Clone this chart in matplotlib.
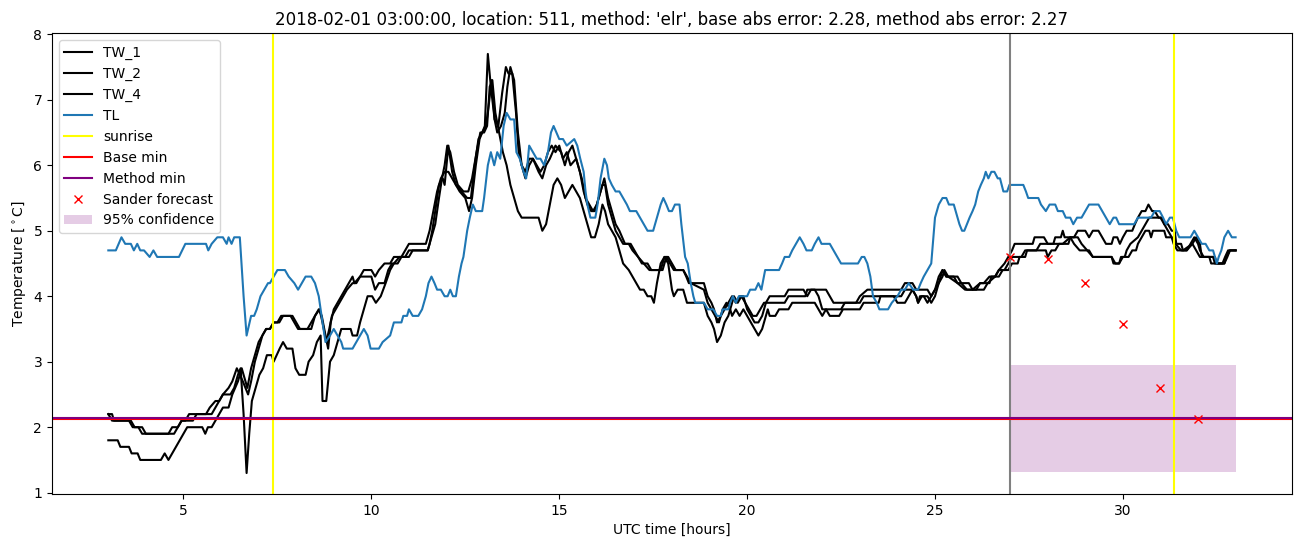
import matplotlib
matplotlib.use("Agg")
import matplotlib.pyplot as plt

# (hour, temperature) breakpoints
tw_1 = [(3.0,2.2),(3.1,2.1),(3.55,2.1),(3.65,2.0),(3.9,2.0),(4.0,1.9),(4.75,1.9),(4.85,2.0),(4.95,2.1),(5.25,2.1),(5.35,2.2),(5.75,2.2),(5.85,2.3),(5.95,2.4),(6.05,2.5),(6.25,2.5),(6.35,2.6),(6.45,2.8),(6.52,2.9),(6.6,2.2),(6.68,1.3),(6.75,1.9),(6.82,2.4),(6.92,2.6),(7.02,2.8),(7.12,2.9),(7.22,3.1),(7.35,3.1),(7.4,3.0),(7.48,3.1),(7.56,3.2),(7.65,3.3),(7.75,3.2),(7.9,3.2),(7.98,2.9),(8.08,2.8),(8.25,2.8),(8.33,3.0),(8.45,3.1),(8.55,3.3),(8.65,3.4),(8.7,2.4),(8.8,2.4),(8.9,3.0),(9.0,3.1),(9.1,3.3),(9.2,3.5),(9.45,3.5),(9.5,3.4),(9.62,3.4),(9.7,3.6),(9.8,3.8),(9.9,4.0),(10.02,4.0),(10.12,3.9),(10.25,4.0),(10.38,4.2),(10.5,4.4),(10.6,4.5),(10.75,4.6),(10.9,4.6),(11.0,4.7),(11.5,4.7),(11.55,4.8),(11.62,5.0),(11.7,5.3),(11.8,5.7),(11.9,5.8),(11.95,5.7),(12.05,6.3),(12.15,5.9),(12.25,5.7),(12.35,5.6),(12.5,5.5),(12.6,5.3),(12.68,5.5),(12.78,6.0),(12.88,6.4),(12.95,6.5),(13.02,6.6),(13.1,7.7),(13.18,7.2),(13.28,6.7),(13.38,6.6),(13.48,7.1),(13.58,7.5),(13.65,7.4),(13.75,7.4),(13.85,6.8),(13.92,6.2),(14.0,6.0),(14.1,5.9),(14.2,6.1),(14.3,6.1),(14.4,6.0),(14.5,5.9),(14.6,6.0),(14.7,6.2),(14.8,6.3),(14.9,6.2),(15.0,6.3),(15.1,6.1),(15.2,6.2),(15.3,6.0),(15.45,6.1),(15.6,5.8),(15.7,5.5),(15.8,5.4),(15.9,5.3),(16.0,5.4),(16.1,5.6),(16.2,5.8),(16.3,5.5),(16.4,5.3),(16.5,5.1),(16.6,5.0),(16.75,4.8),(16.9,4.8),(17.0,4.7),(17.1,4.6),(17.25,4.5),(17.4,4.4),(17.7,4.4),(17.8,4.6),(17.9,4.6),(18.0,4.5),(18.1,4.4),(18.3,4.4),(18.38,4.3),(18.45,4.2),(18.85,4.2),(18.95,4.0),(19.05,3.9),(19.12,3.8),(19.2,3.6),(19.3,3.7),(19.4,3.8),(19.5,3.9),(19.6,4.0),(19.7,3.9),(19.8,4.0),(19.9,4.0),(20.0,3.8),(20.1,3.7),(20.2,3.6),(20.3,3.6),(20.4,3.7),(20.5,3.9),(20.6,4.0),(21.0,4.0),(21.1,4.1),(21.5,4.1),(21.6,4.0),(21.7,4.1),(22.1,4.1),(22.2,4.0),(22.3,3.9),(22.9,3.9),(23.0,4.0),(23.2,4.1),(24.1,4.1),(24.2,4.2),(24.4,4.2),(24.5,4.1),(24.8,4.1),(24.9,4.0),(25.0,4.1),(25.1,4.3),(25.2,4.4),(25.3,4.3),(25.6,4.3),(25.7,4.2),(25.9,4.2),(26.0,4.1),(26.3,4.1),(26.4,4.2),(26.6,4.3),(26.7,4.4),(26.85,4.5),(26.95,4.6),(27.05,4.7),(27.12,4.8),(27.6,4.8),(27.65,4.9),(27.9,4.9),(28.0,4.8),(28.15,4.8),(28.2,4.9),(28.35,4.9),(28.4,5.0),(28.45,4.9),(28.7,4.9),(28.8,5.0),(29.0,5.0),(29.1,4.9),(29.2,5.0),(29.35,5.0),(29.45,4.9),(29.55,4.8),(29.7,4.8),(29.75,4.9),(29.85,4.9),(29.92,4.8),(30.0,4.9),(30.1,5.0),(30.25,5.0),(30.32,5.1),(30.4,5.2),(30.5,5.3),(30.6,5.3),(30.68,5.4),(30.78,5.3),(30.85,5.3),(30.95,5.2),(31.05,5.2),(31.1,5.1),(31.2,5.1),(31.3,5.0),(31.38,5.0),(31.42,4.8),(31.55,4.8),(31.6,4.7),(31.7,4.7),(31.8,4.8),(31.9,4.9),(32.0,4.8),(32.05,4.7),(32.15,4.6),(32.45,4.6),(32.5,4.5),(32.65,4.5),(32.72,4.6),(32.8,4.7),(33.0,4.7)]

tw_2 = [(3.0,1.8),(3.25,1.8),(3.32,1.7),(3.55,1.7),(3.62,1.6),(3.78,1.6),(3.85,1.5),(4.4,1.5),(4.5,1.6),(4.6,1.5),(4.7,1.6),(4.8,1.7),(4.9,1.8),(5.0,1.9),(5.1,2.0),(5.5,2.0),(5.58,1.9),(5.65,2.0),(5.75,2.0),(5.85,2.1),(5.95,2.2),(6.05,2.3),(6.2,2.3),(6.3,2.5),(6.45,2.7),(6.55,2.9),(6.65,2.7),(6.7,2.6),(6.8,2.9),(6.9,3.1),(7.0,3.3),(7.1,3.4),(7.2,3.5),(7.3,3.5),(7.4,3.6),(7.5,3.6),(7.6,3.7),(7.85,3.7),(7.95,3.6),(8.05,3.5),(8.3,3.5),(8.4,3.6),(8.5,3.7),(8.6,3.8),(8.68,3.7),(8.78,3.4),(8.85,3.2),(8.92,3.6),(9.0,3.8),(9.1,3.9),(9.2,4.0),(9.3,4.1),(9.4,4.2),(9.5,4.3),(9.55,4.2),(9.7,4.3),(9.8,4.4),(10.0,4.4),(10.1,4.3),(10.2,4.4),(10.35,4.5),(10.5,4.5),(10.6,4.6),(10.8,4.6),(10.9,4.7),(11.0,4.8),(11.45,4.8),(11.55,5.0),(11.65,5.3),(11.75,5.6),(11.85,5.8),(11.95,5.9),(12.05,5.9),(12.15,5.8),(12.25,5.7),(12.4,5.6),(12.55,5.5),(12.65,5.5),(12.75,6.0),(12.85,6.4),(12.95,6.5),(13.05,6.6),(13.12,6.9),(13.2,7.3),(13.28,6.7),(13.35,6.5),(13.45,6.6),(13.55,6.8),(13.62,7.2),(13.7,7.5),(13.8,7.3),(13.9,6.5),(14.0,6.0),(14.1,5.8),(14.2,6.0),(14.3,6.1),(14.45,5.9),(14.55,5.8),(14.65,6.0),(14.75,6.1),(14.9,6.3),(15.05,6.2),(15.15,6.0),(15.25,6.2),(15.35,6.3),(15.45,6.1),(15.55,5.9),(15.65,5.6),(15.75,5.4),(15.85,5.3),(15.95,5.3),(16.05,5.5),(16.15,5.7),(16.22,5.7),(16.3,5.4),(16.4,5.2),(16.5,5.0),(16.6,4.9),(16.7,4.8),(16.85,4.8),(16.95,4.7),(17.1,4.6),(17.2,4.5),(17.35,4.5),(17.45,4.4),(17.75,4.4),(17.85,4.6),(17.95,4.5),(18.05,4.4),(18.3,4.4),(18.4,4.3),(18.5,4.2),(18.85,4.1),(18.95,3.9),(19.05,3.8),(19.15,3.7),(19.25,3.6),(19.35,3.8),(19.45,3.9),(19.55,3.8),(19.65,4.0),(19.75,3.9),(19.85,4.0),(19.95,3.9),(20.05,3.8),(20.15,3.7),(20.25,3.7),(20.35,3.8),(20.45,3.9),(21.0,3.9),(21.1,4.0),(21.55,4.0),(21.6,4.1),(21.8,4.1),(21.9,4.0),(22.0,3.8),(22.5,3.8),(22.6,3.9),(23.0,3.9),(23.1,4.0),(24.1,4.0),(24.2,4.1),(24.4,4.1),(24.5,4.0),(24.55,3.9),(24.6,4.0),(24.7,4.0),(24.8,3.9),(24.9,4.0),(25.0,4.1),(25.1,4.2),(25.2,4.4),(25.3,4.3),(25.5,4.3),(25.6,4.2),(25.8,4.1),(26.0,4.1),(26.2,4.2),(26.3,4.2),(26.45,4.3),(26.6,4.3),(26.7,4.4),(26.85,4.4),(26.95,4.5),(27.05,4.6),(27.3,4.6),(27.4,4.7),(27.7,4.7),(27.8,4.8),(28.4,4.8),(28.6,4.9),(28.7,4.8),(28.85,4.7),(29.1,4.7),(29.2,4.6),(29.7,4.6),(29.75,4.5),(29.9,4.5),(29.95,4.6),(30.05,4.6),(30.1,4.7),(30.2,4.8),(30.4,4.9),(30.5,5.0),(30.6,5.1),(30.7,5.2),(31.0,5.2),(31.1,5.1),(31.2,5.0),(31.3,4.9),(31.4,4.8),(31.55,4.7),(31.7,4.7),(31.85,4.8),(31.95,4.9),(32.05,4.8),(32.1,4.6),(32.4,4.6),(32.45,4.5),(32.7,4.5),(32.78,4.6),(32.85,4.7),(33.0,4.7)]

tw_4 = [(3.0,2.2),(3.1,2.2),(3.15,2.1),(3.6,2.1),(3.7,2.0),(3.8,2.0),(3.9,1.9),(4.6,1.9),(4.7,2.0),(4.85,2.0),(4.95,2.1),(5.05,2.1),(5.15,2.2),(5.6,2.2),(5.7,2.3),(5.85,2.4),(5.95,2.4),(6.05,2.5),(6.2,2.6),(6.3,2.7),(6.42,2.9),(6.5,2.8),(6.58,2.7),(6.65,2.6),(6.72,2.5),(6.8,2.7),(6.9,3.0),(7.0,3.2),(7.1,3.4),(7.2,3.5),(7.3,3.5),(7.4,3.6),(7.55,3.6),(7.65,3.7),(7.9,3.7),(8.0,3.6),(8.1,3.5),(8.4,3.5),(8.5,3.7),(8.62,3.8),(8.7,3.6),(8.8,3.3),(8.88,3.5),(8.95,3.7),(9.05,3.8),(9.15,3.9),(9.25,4.0),(9.35,4.1),(9.5,4.2),(9.6,4.2),(9.7,4.3),(10.0,4.3),(10.1,4.1),(10.2,4.2),(10.35,4.2),(10.45,4.4),(10.55,4.5),(10.7,4.5),(10.8,4.6),(11.0,4.6),(11.1,4.7),(11.5,4.7),(11.6,4.9),(11.7,5.1),(11.8,5.5),(11.88,5.8),(11.95,6.0),(12.02,6.3),(12.1,6.2),(12.2,5.9),(12.3,5.7),(12.45,5.6),(12.58,5.6),(12.68,5.8),(12.8,6.2),(12.9,6.5),(13.0,6.5),(13.08,6.6),(13.15,7.2),(13.22,7.3),(13.3,6.8),(13.4,6.5),(13.5,6.2),(13.6,6.0),(13.7,5.7),(13.8,5.5),(13.9,5.3),(14.0,5.2),(14.45,5.2),(14.55,5.0),(14.65,5.1),(14.75,5.4),(14.85,5.7),(14.95,5.8),(15.05,5.7),(15.15,5.5),(15.25,5.6),(15.35,5.7),(15.45,5.6),(15.55,5.5),(15.65,5.3),(15.75,5.1),(15.85,4.9),(15.95,4.9),(16.05,5.1),(16.15,5.4),(16.22,5.3),(16.3,5.1),(16.4,5.0),(16.5,4.9),(16.6,4.7),(16.7,4.5),(16.85,4.4),(16.95,4.3),(17.05,4.2),(17.15,4.1),(17.25,4.1),(17.35,4.0),(17.45,4.0),(17.52,3.9),(17.6,4.2),(17.7,4.5),(17.8,4.6),(17.9,4.5),(18.0,4.1),(18.05,4.0),(18.15,4.1),(18.3,4.1),(18.4,3.9),(18.85,3.9),(18.95,3.7),(19.05,3.6),(19.12,3.5),(19.2,3.3),(19.3,3.4),(19.4,3.6),(19.5,3.7),(19.55,3.8),(19.6,3.7),(19.7,3.8),(19.8,3.7),(19.9,3.8),(20.0,3.7),(20.1,3.6),(20.2,3.5),(20.3,3.4),(20.4,3.5),(20.5,3.7),(20.55,3.8),(20.6,3.7),(20.75,3.7),(20.85,3.8),(21.1,3.8),(21.2,3.9),(21.8,3.9),(21.9,3.8),(22.0,3.7),(22.1,3.8),(22.2,3.7),(22.45,3.7),(22.55,3.8),(23.0,3.8),(23.1,3.9),(23.5,3.9),(23.55,4.0),(23.9,4.0),(24.0,3.9),(24.2,3.9),(24.3,4.0),(24.4,4.1),(24.5,4.0),(24.55,3.9),(24.65,4.0),(24.8,4.0),(24.9,3.9),(25.0,4.0),(25.1,4.2),(25.2,4.3),(25.25,4.4),(25.35,4.3),(25.6,4.2),(25.7,4.2),(25.85,4.1),(26.1,4.1),(26.2,4.2),(26.45,4.2),(26.5,4.3),(26.7,4.3),(26.8,4.4),(26.95,4.4),(27.05,4.5),(27.2,4.5),(27.25,4.6),(27.4,4.6),(27.45,4.7),(27.95,4.7),(28.0,4.6),(28.1,4.7),(28.2,4.7),(28.3,4.8),(28.55,4.8),(28.6,4.9),(28.8,4.9),(28.9,4.8),(29.05,4.7),(29.2,4.6),(29.7,4.6),(29.8,4.5),(29.9,4.5),(30.0,4.6),(30.15,4.6),(30.25,4.7),(30.35,4.7),(30.4,4.8),(30.5,4.9),(30.6,5.0),(30.7,5.0),(30.75,4.9),(30.8,5.0),(31.1,5.0),(31.15,4.9),(31.3,4.9),(31.35,4.8),(31.45,4.7),(31.6,4.7),(31.85,4.8),(31.95,4.7),(32.05,4.6),(32.3,4.6),(32.35,4.5),(32.7,4.5),(32.75,4.6),(32.85,4.7),(33.0,4.7)]

tl = [(3.0,4.7),(3.2,4.7),(3.35,4.9),(3.45,4.8),(3.6,4.8),(3.68,4.7),(3.77,4.8),(3.85,4.7),(3.95,4.7),(4.1,4.6),(4.2,4.7),(4.3,4.6),(4.88,4.6),(5.05,4.8),(5.6,4.8),(5.66,4.7),(5.75,4.8),(5.9,4.9),(6.05,4.9),(6.15,4.8),(6.2,4.9),(6.28,4.8),(6.35,4.9),(6.5,4.9),(6.6,4.0),(6.68,3.4),(6.8,3.7),(6.88,3.7),(6.95,3.8),(7.05,4.0),(7.15,4.1),(7.25,4.2),(7.3,4.2),(7.4,4.3),(7.5,4.4),(7.7,4.4),(7.8,4.3),(7.95,4.2),(8.05,4.1),(8.15,4.2),(8.25,4.3),(8.4,4.3),(8.5,4.2),(8.6,4.0),(8.7,3.6),(8.78,3.3),(8.9,3.4),(9.0,3.5),(9.1,3.4),(9.2,3.3),(9.25,3.2),(9.5,3.2),(9.6,3.3),(9.7,3.4),(9.8,3.5),(9.9,3.4),(9.98,3.2),(10.2,3.2),(10.3,3.3),(10.5,3.4),(10.55,3.5),(10.6,3.6),(10.8,3.6),(10.85,3.7),(10.95,3.7),(11.0,3.8),(11.1,3.7),(11.25,3.7),(11.35,3.8),(11.45,4.0),(11.52,4.2),(11.6,4.3),(11.68,4.2),(11.75,4.1),(11.85,4.1),(11.95,4.0),(12.03,4.0),(12.1,4.1),(12.17,4.0),(12.25,4.0),(12.33,4.3),(12.4,4.5),(12.45,4.6),(12.55,5.0),(12.62,5.2),(12.7,5.4),(12.78,5.3),(12.95,5.3),(13.0,5.5),(13.1,6.0),(13.18,6.2),(13.27,6.0),(13.35,6.2),(13.43,6.1),(13.52,6.6),(13.6,6.8),(13.7,6.7),(13.8,6.7),(13.86,6.2),(13.95,6.1),(14.05,5.9),(14.12,5.8),(14.2,6.3),(14.3,6.2),(14.4,6.1),(14.5,6.1),(14.6,6.0),(14.7,6.2),(14.78,6.5),(14.85,6.6),(15.0,6.4),(15.1,6.4),(15.2,6.3),(15.4,6.4),(15.48,6.3),(15.56,6.1),(15.65,5.9),(15.7,5.6),(15.75,5.4),(15.83,5.2),(15.96,5.2),(16.02,5.4),(16.1,5.8),(16.2,6.1),(16.27,6.0),(16.32,5.8),(16.4,5.7),(16.5,5.6),(16.6,5.6),(16.7,5.5),(16.8,5.4),(16.88,5.3),(17.05,5.3),(17.15,5.2),(17.25,5.1),(17.35,5.0),(17.5,5.0),(17.6,5.2),(17.7,5.4),(17.77,5.5),(17.85,5.4),(17.92,5.3),(18.0,5.3),(18.08,5.4),(18.2,5.4),(18.25,5.1),(18.35,4.6),(18.42,4.5),(18.5,4.2),(18.57,4.0),(18.62,3.9),(18.85,3.9),(18.95,3.8),(19.1,3.8),(19.2,3.7),(19.3,3.7),(19.35,3.8),(19.5,3.8),(19.55,3.9),(19.62,4.0),(19.7,3.9),(19.78,4.0),(20.0,4.0),(20.08,4.1),(20.22,4.1),(20.3,4.2),(20.38,4.1),(20.48,4.4),(20.85,4.4),(20.93,4.5),(21.0,4.6),(21.12,4.6),(21.2,4.7),(21.3,4.8),(21.4,4.9),(21.5,4.8),(21.58,4.7),(21.72,4.7),(21.8,4.8),(21.9,4.9),(21.98,4.8),(22.2,4.8),(22.3,4.7),(22.4,4.6),(22.5,4.5),(22.95,4.5),(23.05,4.6),(23.12,4.6),(23.2,4.5),(23.28,4.3),(23.35,4.0),(23.45,3.9),(23.52,3.8),(23.75,3.8),(23.85,3.9),(24.0,4.0),(24.1,4.1),(24.2,4.1),(24.3,4.2),(24.42,4.1),(24.55,4.1),(24.62,4.2),(24.7,4.3),(24.8,4.4),(24.9,4.5),(25.0,5.2),(25.1,5.4),(25.2,5.5),(25.3,5.5),(25.37,5.4),(25.5,5.4),(25.6,5.2),(25.65,5.1),(25.72,5.0),(25.78,5.0),(25.85,5.1),(25.92,5.2),(26.0,5.3),(26.07,5.4),(26.15,5.6),(26.22,5.7),(26.3,5.8),(26.35,5.9),(26.42,5.8),(26.5,5.9),(26.58,5.9),(26.67,5.8),(26.73,5.8),(26.82,5.6),(26.92,5.6),(26.98,5.7),(27.35,5.7),(27.42,5.6),(27.48,5.5),(27.75,5.5),(27.82,5.4),(27.95,5.3),(28.05,5.4),(28.2,5.4),(28.27,5.3),(28.4,5.3),(28.48,5.2),(28.6,5.2),(28.68,5.1),(28.78,5.2),(28.9,5.2),(29.0,5.3),(29.1,5.4),(29.35,5.4),(29.45,5.3),(29.55,5.2),(29.65,5.1),(29.75,5.2),(29.82,5.2),(29.9,5.1),(30.3,5.1),(30.4,5.2),(30.75,5.2),(30.85,5.3),(30.98,5.3),(31.07,5.2),(31.15,5.1),(31.25,5.2),(31.33,5.2),(31.42,5.0),(31.5,4.9),(31.8,4.9),(31.9,5.0),(32.0,4.9),(32.1,4.8),(32.2,4.8),(32.3,4.7),(32.4,4.7),(32.45,4.6),(32.5,4.5),(32.55,4.6),(32.62,4.7),(32.7,4.9),(32.8,5.0),(32.9,4.9),(33.0,4.9)]

sunrise_hours = [7.37, 31.37]
forecast_start = 27.0
base_min = 2.12
method_min = 2.135
sander_hours = [27, 28, 29, 30, 31, 32]
sander_temps = [4.60, 4.57, 4.20, 3.58, 2.60, 2.12]
conf_hours = [27, 33]
conf_low = 1.32
conf_high = 2.95

title = "2018-02-01 03:00:00, location: 511, method: 'elr', base abs error: 2.28, method abs error: 2.27"

fig = plt.figure(figsize=(13.02, 5.47), dpi=100)
ax = fig.add_axes([0.0399, 0.0969, 0.9524, 0.8428])

for name, series in [("TW_1", tw_1), ("TW_2", tw_2), ("TW_4", tw_4)]:
    t, v = zip(*series)
    ax.plot(t, v, color="black", label=name)
t, v = zip(*tl)
ax.plot(t, v, color="tab:blue", label="TL")

ax.axvline(sunrise_hours[0], color="yellow", label="sunrise")
ax.axvline(sunrise_hours[1], color="yellow")
ax.axvline(forecast_start, color="grey")
ax.axhline(base_min, color="red", label="Base min")
ax.axhline(method_min, color="purple", label="Method min")
ax.plot(sander_hours, sander_temps, "rx", label="Sander forecast")
ax.fill_between(conf_hours, conf_low, conf_high, color="purple", alpha=0.2,
                linewidth=0, label="95% confidence")

ax.set_title(title)
ax.set_xlabel("UTC time [hours]")
ax.set_ylabel("Temperature [$^\\circ$C]")
ax.legend(loc="upper left")

fig.savefig("out.png", dpi=100)
